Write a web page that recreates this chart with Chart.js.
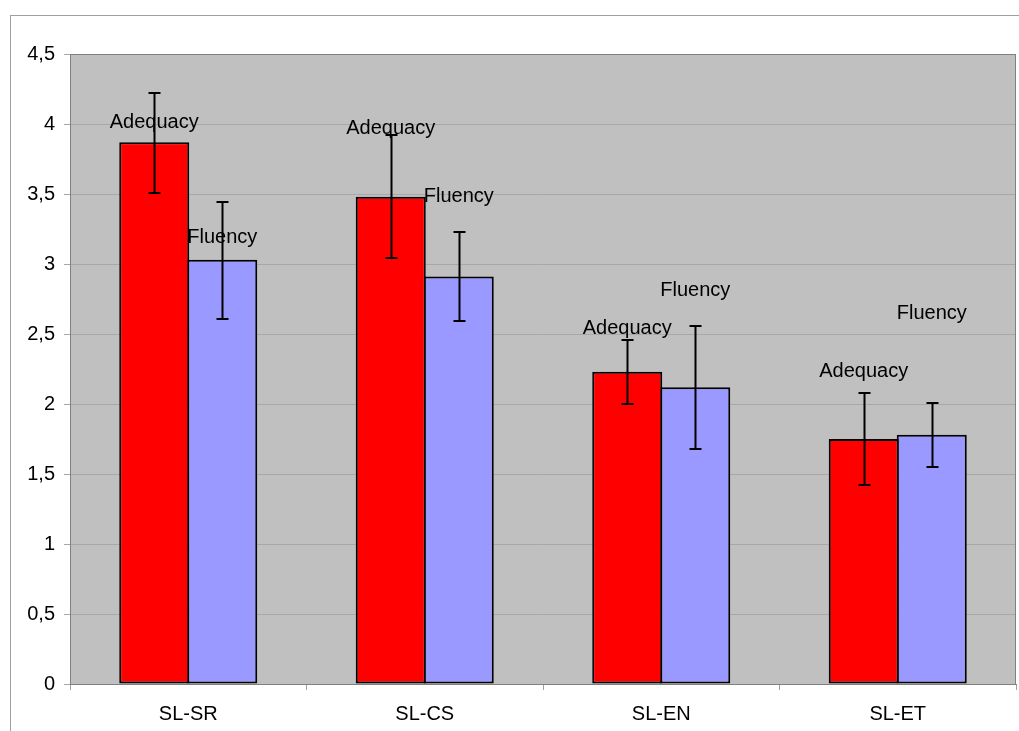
<!DOCTYPE html>
<html>
<head>
<meta charset="utf-8">
<script src="https://cdn.jsdelivr.net/npm/chart.js@4/dist/chart.umd.min.js"></script>
<style>
  html, body { margin: 0; padding: 0; background: #fff; }
  #wrap { position: relative; width: 1019px; height: 731px; overflow: hidden; }
  #frame { position: absolute; left: 10px; top: 15px; width: 1100px; height: 800px;
           border-left: 1px solid #a0a0a0; border-top: 1px solid #a0a0a0; }
  canvas { position: absolute; left: 0; top: 0; }
</style>
</head>
<body>
<div id="wrap">
  <div id="frame"></div>
  <canvas id="chart" width="1019" height="731"></canvas>
</div>
<script>
// language pairs on the x axis
const categories = ['SL-SR', 'SL-CS', 'SL-EN', 'SL-ET'];

// mean scores
const adequacy = [3.87, 3.48, 2.23, 1.75];
const fluency = [3.03, 2.91, 2.12, 1.78];

// error bar ends
const adequacyLow = [3.51, 3.04, 2.00, 1.42];
const adequacyHigh = [4.22, 3.92, 2.46, 2.08];
const fluencyLow = [2.61, 2.59, 1.68, 1.55];
const fluencyHigh = [3.44, 3.23, 2.56, 2.01];

// where the series name labels sit (in axis units)
const adequacyLabelY = [4.01, 3.97, 2.54, 2.23];
const fluencyLabelY = [3.19, 3.48, 2.81, 2.65];

const yTicks = [0, 0.5, 1, 1.5, 2, 2.5, 3, 3.5, 4, 4.5];

const FONT = '"Liberation Sans", Arial, sans-serif';

// grey plot area with a border
const plotBackground = {
    id: 'plotBackground',
    beforeDraw(chart) {
        const { ctx, chartArea: a } = chart;
        ctx.save();
        ctx.fillStyle = '#c0c0c0';
        ctx.fillRect(a.left, a.top, a.right - a.left, a.bottom - a.top);
        ctx.restore();
    },
    afterDraw(chart) {
        const { ctx, chartArea: a } = chart;
        ctx.save();
        ctx.strokeStyle = '#808080';
        ctx.lineWidth = 1;
        ctx.strokeRect(a.left + 0.5, a.top + 0.5, a.right - a.left - 1, a.bottom - a.top);
        ctx.restore();
    }
};

// error bars and series labels on top of the bars
const barExtras = {
    id: 'barExtras',
    afterDatasetsDraw(chart) {
        const { ctx } = chart;
        const y = chart.scales.y;
        const lows = [adequacyLow, fluencyLow];
        const highs = [adequacyHigh, fluencyHigh];
        const labelYs = [adequacyLabelY, fluencyLabelY];
        ctx.save();
        ctx.strokeStyle = '#000';
        ctx.lineWidth = 2;
        chart.data.datasets.forEach((ds, i) => {
            chart.getDatasetMeta(i).data.forEach((bar, j) => {
                const x = Math.round(bar.x) + 0.5;
                const yl = Math.round(y.getPixelForValue(lows[i][j]));
                const yh = Math.round(y.getPixelForValue(highs[i][j]));
                ctx.beginPath();
                ctx.moveTo(x, yh);
                ctx.lineTo(x, yl);
                ctx.moveTo(x - 6, yh);
                ctx.lineTo(x + 6, yh);
                ctx.moveTo(x - 6, yl);
                ctx.lineTo(x + 6, yl);
                ctx.stroke();
            });
        });
        ctx.fillStyle = '#000';
        ctx.font = '20px ' + FONT;
        ctx.textAlign = 'center';
        ctx.textBaseline = 'middle';
        chart.data.datasets.forEach((ds, i) => {
            chart.getDatasetMeta(i).data.forEach((bar, j) => {
                ctx.fillText(ds.label, bar.x, y.getPixelForValue(labelYs[i][j]));
            });
        });
        ctx.restore();
    }
};

new Chart(document.getElementById('chart'), {
    type: 'bar',
    data: {
        labels: categories,
        datasets: [
            {
                label: 'Adequacy',
                data: adequacy,
                backgroundColor: '#ff0000',
                borderColor: '#000',
                borderWidth: 2,
                borderSkipped: false
            },
            {
                label: 'Fluency',
                data: fluency,
                backgroundColor: '#9999ff',
                borderColor: '#000',
                borderWidth: 2,
                borderSkipped: false
            }
        ]
    },
    options: {
        responsive: false,
        animation: false,
        datasets: {
            bar: { categoryPercentage: 0.575, barPercentage: 1.03 }
        },
        layout: { padding: { top: 54, right: 3, left: 0, bottom: 0 } },
        plugins: {
            legend: { display: false },
            tooltip: { enabled: false }
        },
        scales: {
            x: {
                grid: {
                    offset: true,
                    drawOnChartArea: false,
                    color: '#a0a0a0',
                    tickLength: 6
                },
                border: { color: '#808080' },
                ticks: {
                    color: '#000',
                    padding: 12,
                    font: { family: FONT, size: 20 }
                },
                afterFit(scale) { scale.height = 47; }
            },
            y: {
                min: 0,
                max: 4.5,
                afterBuildTicks(scale) {
                    scale.ticks = yTicks.map(v => ({ value: v }));
                },
                grid: {
                    color: '#a8a8a8',
                    tickLength: 6
                },
                border: { color: '#808080' },
                ticks: {
                    color: '#000',
                    padding: 9,
                    font: { family: FONT, size: 20 },
                    callback: v => String(v).replace('.', ',')
                },
                afterFit(scale) { scale.width = 70; }
            }
        }
    },
    plugins: [plotBackground, barExtras]
});
</script>
</body>
</html>
